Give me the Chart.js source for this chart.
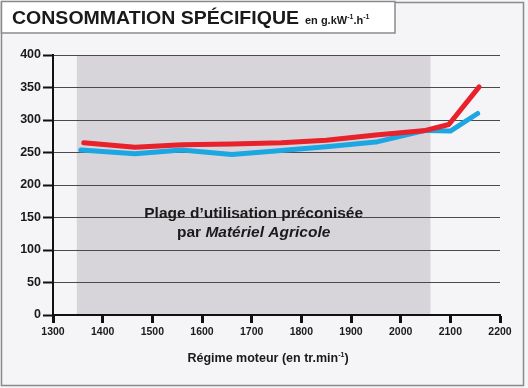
<!DOCTYPE html>
<html>
<head>
<meta charset="utf-8">
<script src="https://cdn.jsdelivr.net/npm/chart.js@4"></script>
<style>
  html, body { margin: 0; padding: 0; background: #ffffff; }
  #chart { display: block; }
</style>
</head>
<body>
<canvas id="chart" width="528" height="388"></canvas>
<script>
// values
const rpmRed = [1362, 1465, 1560, 1660, 1760, 1850, 1950, 2050, 2097, 2158]
const consoRed = [265, 258, 262, 263, 265, 269, 277, 284, 293, 351]
const rpmBlue = [1356, 1465, 1559, 1660, 1760, 1850, 1950, 2050, 2100, 2155]
const consoBlue = [254, 248, 254, 247, 253, 259, 266, 284, 283, 310]
const xTicks = [1300, 1400, 1500, 1600, 1700, 1800, 1900, 2000, 2100, 2200]
const yTicks = [0, 50, 100, 150, 200, 250, 300, 350, 400]
const bandRange = [1348, 2060]
const bandText = ['Plage d\u2019utilisation préconisée', 'par ', 'Matériel Agricole']
const titleMain = 'CONSOMMATION SPÉCIFIQUE'
const xTitle = 'Régime moteur (en tr.min'

const FONT = '"Liberation Sans", Arial, sans-serif'

function points(xs, ys) {
    return xs.map((x, i) => ({ x: x, y: ys[i] }))
}

// frame, title box and the shaded band under the grid
const backdrop = {
    id: 'backdrop',
    beforeDraw(chart) {
        const ctx = chart.ctx
        const { top, bottom } = chart.chartArea
        const x = chart.scales.x
        ctx.save()
        ctx.fillStyle = '#f5f4f7'
        ctx.fillRect(0, 0, 528, 388)
        ctx.strokeStyle = '#8a8a8e'
        ctx.lineWidth = 1.5
        ctx.strokeRect(1.5, 2.5, 522, 383)
        // band
        ctx.fillStyle = '#d8d5da'
        const x0 = x.getPixelForValue(bandRange[0])
        const x1 = x.getPixelForValue(bandRange[1])
        ctx.fillRect(x0, top, x1 - x0, bottom - top)
        ctx.restore()
    },
    afterDraw(chart) {
        const ctx = chart.ctx
        const x = chart.scales.x
        ctx.save()
        // title box
        ctx.fillStyle = '#ffffff'
        ctx.fillRect(1, 1, 394, 32)
        ctx.strokeStyle = '#8a8a8e'
        ctx.lineWidth = 1.5
        ctx.strokeRect(1.5, 1.5, 393.5, 31.5)
        ctx.fillStyle = '#1a1a1a'
        ctx.textBaseline = 'alphabetic'
        ctx.font = 'bold 18px ' + FONT
        const w = ctx.measureText(titleMain).width
        ctx.save()
        ctx.translate(12, 24)
        ctx.scale(287 / w, 1)
        ctx.fillText(titleMain, 0, 0)
        ctx.restore()
        // unit
        let ux = 305
        const parts = [['en g.kW', 11, 0], ['-1', 7, -5], ['.h', 11, 0], ['-1', 7, -5]]
        parts.forEach(p => {
            ctx.font = 'bold ' + p[1] + 'px ' + FONT
            ctx.fillText(p[0], ux, 24 + p[2])
            ux += ctx.measureText(p[0]).width
        })

        // band text
        const cx = (x.getPixelForValue(bandRange[0]) + x.getPixelForValue(bandRange[1])) / 2
        ctx.textAlign = 'center'
        ctx.font = 'bold 15.5px ' + FONT
        ctx.fillText(bandText[0], cx, 218)
        const wa = ctx.measureText(bandText[1]).width
        ctx.font = 'italic bold 15.5px ' + FONT
        const wb = ctx.measureText(bandText[2]).width
        const sx = cx - (wa + wb) / 2
        ctx.textAlign = 'left'
        ctx.font = 'bold 15.5px ' + FONT
        ctx.fillText(bandText[1], sx, 237)
        ctx.font = 'italic bold 15.5px ' + FONT
        ctx.fillText(bandText[2], sx + wa, 237)

        // x axis title
        ctx.font = 'bold 12.5px ' + FONT
        const t1 = ctx.measureText(xTitle).width
        ctx.font = 'bold 7px ' + FONT
        const t2 = ctx.measureText('-1').width
        ctx.font = 'bold 12.5px ' + FONT
        const t3 = ctx.measureText(')').width
        let tx = 268 - (t1 + t2 + t3) / 2
        ctx.fillText(xTitle, tx, 362)
        tx += t1
        ctx.font = 'bold 7px ' + FONT
        ctx.fillText('-1', tx, 357)
        tx += t2
        ctx.font = 'bold 12.5px ' + FONT
        ctx.fillText(')', tx, 362)
        ctx.restore()
    }
}

new Chart(document.getElementById('chart'), {
    type: 'line',
    data: {
        datasets: [
            {
                data: points(rpmRed, consoRed),
                borderColor: '#e8212b',
                borderWidth: 5,
                pointRadius: 0,
                tension: 0,
                borderCapStyle: 'round',
                borderJoinStyle: 'round'
            },
            {
                data: points(rpmBlue, consoBlue),
                borderColor: '#1ca6e2',
                borderWidth: 5,
                pointRadius: 0,
                tension: 0,
                borderCapStyle: 'round',
                borderJoinStyle: 'round'
            }
        ]
    },
    options: {
        responsive: false,
        animation: false,
        devicePixelRatio: 1,
        layout: { padding: { top: 55, right: 28, left: 0, bottom: 0 } },
        plugins: {
            legend: { display: false },
            tooltip: { enabled: false }
        },
        scales: {
            x: {
                type: 'linear',
                min: 1300,
                max: 2200,
                afterBuildTicks(axis) { axis.ticks = xTicks.map(v => ({ value: v })) },
                afterFit(axis) { axis.height = 73 },
                grid: {
                    drawOnChartArea: false,
                    drawTicks: true,
                    tickLength: 8,
                    tickWidth: 3,
                    tickColor: '#111'
                },
                border: { display: true, color: '#111', width: 2 },
                ticks: {
                    color: '#1a1a1a',
                    padding: 3,
                    maxRotation: 0,
                    callback: v => String(v),
                    font: { family: FONT, size: 10.5, weight: 'bold' }
                }
            },
            y: {
                min: 0,
                max: 400,
                afterBuildTicks(axis) { axis.ticks = yTicks.map(v => ({ value: v })) },
                afterFit(axis) { axis.width = 53 },
                grid: {
                    color: '#4a4a4a',
                    lineWidth: 1,
                    drawTicks: true,
                    tickLength: 10,
                    tickWidth: 2,
                    tickColor: '#111'
                },
                border: { display: true, color: '#111', width: 2 },
                ticks: {
                    color: '#1a1a1a',
                    padding: 2,
                    font: { family: FONT, size: 12.5, weight: 'bold' }
                }
            }
        }
    },
    plugins: [backdrop]
})
</script>
</body>
</html>
